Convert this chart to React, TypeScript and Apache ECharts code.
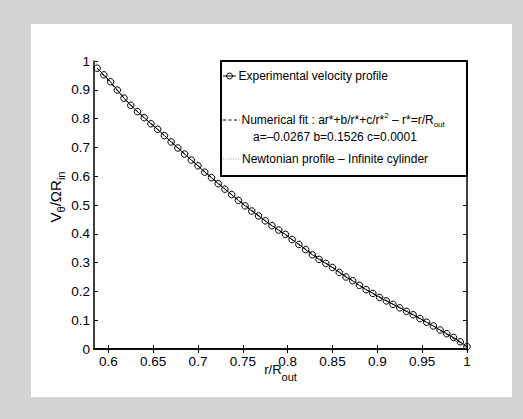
import React, { useEffect, useRef } from "react";
import * as echarts from "echarts";

// Experimental velocity profile (r/R_out, V_theta / Omega R_in)
const expR = [0.5875, 0.595, 0.6025, 0.61, 0.6175, 0.625, 0.6325, 0.64, 0.6475, 0.655,
  0.6625, 0.67, 0.6775, 0.685, 0.6925, 0.7, 0.7075, 0.715, 0.7225, 0.73,
  0.7375, 0.745, 0.7525, 0.76, 0.7675, 0.775, 0.7825, 0.79, 0.7975, 0.805,
  0.8125, 0.82, 0.8275, 0.835, 0.8425, 0.85, 0.8575, 0.865, 0.8725, 0.88,
  0.8875, 0.895, 0.9025, 0.91, 0.9175, 0.925, 0.9325, 0.94, 0.9475, 0.955,
  0.9625, 0.97, 0.9775, 0.985, 0.9925, 1.0];
const expV = [0.975, 0.952, 0.928, 0.899, 0.871, 0.846, 0.824, 0.803, 0.782, 0.763,
  0.741, 0.719, 0.698, 0.677, 0.656, 0.636, 0.614, 0.595, 0.574, 0.555,
  0.536, 0.516, 0.497, 0.479, 0.462, 0.445, 0.428, 0.413, 0.398, 0.380,
  0.363, 0.345, 0.327, 0.311, 0.297, 0.283, 0.266, 0.250, 0.237, 0.221,
  0.206, 0.193, 0.179, 0.167, 0.155, 0.143, 0.131, 0.119, 0.106, 0.093,
  0.080, 0.066, 0.053, 0.040, 0.025, 0.008];

// Numerical fit (dashed)
const fitR = [0.5875, 0.625, 0.6625, 0.7, 0.7375, 0.775, 0.8125, 0.85, 0.8875, 0.925, 0.9625, 1.0];
const fitV = [0.975, 0.846, 0.741, 0.636, 0.536, 0.445, 0.363, 0.283, 0.206, 0.143, 0.080, 0.008];

// Newtonian profile - infinite cylinder (dotted)
const newtR = [0.584, 0.6, 0.625, 0.65, 0.675, 0.7, 0.75, 0.8, 0.85, 0.9, 0.95, 1.0];
const newtV = [1.0, 0.948, 0.86, 0.79, 0.718, 0.649, 0.516, 0.405, 0.294, 0.193, 0.105, 0.0];

const xTicks = [0.6, 0.65, 0.7, 0.75, 0.8, 0.85, 0.9, 0.95, 1];
const xTickLabels = ["0.6", "0.65", "0.7", "0.75", "0.8", "0.85", "0.9", "0.95", "1"];

const legendLabels = [
  "Experimental velocity profile",
  "Numerical fit : ar*+b/r*+c/r*",
  "a=\u20130.0267 b=0.1526 c=0.0001",
  "Newtonian profile \u2013 Infinite cylinder",
];

const FONT = "'Liberation Sans', Arial, Helvetica, sans-serif";

function tw(t: string, size: number): number {
  const c = document.createElement("canvas").getContext("2d");
  if (!c) return t.length * size * 0.5;
  c.font = `${size}px ${FONT}`;
  return c.measureText(t).width;
}

function txt(text: string, x: number, y: number, size: number, extra: any = {}) {
  return {
    type: "text",
    x,
    y,
    z: 100,
    silent: true,
    style: {
      text,
      fontSize: size,
      fontFamily: FONT,
      fill: "#000",
      align: "left",
      verticalAlign: "middle",
      ...extra,
    },
  };
}

export default function App() {
  const ref = useRef<HTMLDivElement>(null);

  useEffect(() => {
    if (!ref.current) return;
    const chart = echarts.init(ref.current, undefined, { renderer: "svg" });

    const gridL = 94, gridT = 61, gridR = 467, gridB = 349;

    // Legend
    const lx = 221, ly = gridT, lw = gridR - lx, lh = 115;
    const r1 = 76, r2 = 120, r3 = 137, r4 = 159;
    const p1 = legendLabels[1];
    const w1 = tw(p1, 12);
    const p3 = " \u2013 r*=r/R";
    const w2 = tw("2", 8);
    const w3 = tw(p3, 12);
    const tx2 = 241.5;

    // x-axis name
    const xn1 = "r/R", xn2 = "out";
    const xnw = tw(xn1, 13) + tw(xn2, 11);
    const xnx = (gridL + gridR) / 2 - xnw / 2;

    // y-axis name pieces (rotated)
    const yParts = [
      { t: "V", s: 15, sub: false },
      { t: "\u03b8", s: 11, sub: true },
      { t: "/\u03a9R", s: 15, sub: false },
      { t: "in", s: 11, sub: true },
    ];
    const yTotal = yParts.reduce((a, p) => a + tw(p.t, p.s), 0);
    let acc = -yTotal / 2;
    const yChildren = yParts.map((p) => {
      const el = txt(p.t, acc, p.sub ? 6 : 0, p.s);
      acc += tw(p.t, p.s);
      return el;
    });

    const axisLine = { show: true, lineStyle: { color: "#000", width: 1.5 } };
    const tickStyle = { color: "#000", width: 1 };

    chart.setOption({
      animation: false,
      backgroundColor: "#d3d4d6",
      grid: { left: gridL, top: gridT, right: 523 - gridR, bottom: 419 - gridB, containLabel: false },
      xAxis: [
        {
          type: "value", min: 0.584, max: 1, position: "bottom",
          axisLine,
          axisTick: { show: true, inside: true, length: 4, customValues: xTicks, lineStyle: tickStyle },
          axisLabel: {
            customValues: xTicks, color: "#000", fontSize: 13.5, fontFamily: FONT, margin: 5,
            formatter: (v: number) => {
              const i = xTicks.findIndex((t) => Math.abs(t - v) < 1e-9);
              return i >= 0 ? xTickLabels[i] : String(v);
            },
          },
          splitLine: { show: false },
        },
        {
          type: "value", min: 0.584, max: 1, position: "top",
          axisLine,
          axisTick: { show: true, inside: true, length: 4, customValues: xTicks, lineStyle: tickStyle },
          axisLabel: { show: false },
          splitLine: { show: false },
        },
      ],
      yAxis: [
        {
          type: "value", min: 0, max: 1, interval: 0.1, position: "left",
          axisLine,
          axisTick: { show: true, inside: true, length: 4, lineStyle: tickStyle },
          axisLabel: { color: "#000", fontSize: 13.5, fontFamily: FONT, margin: 4 },
          splitLine: { show: false },
        },
        {
          type: "value", min: 0, max: 1, interval: 0.1, position: "right",
          axisLine,
          axisTick: { show: true, inside: true, length: 4, lineStyle: tickStyle },
          axisLabel: { show: false },
          splitLine: { show: false },
        },
      ],
      series: [
        {
          name: "Newtonian", type: "line", silent: true, z: 2,
          data: newtR.map((r, i) => [r, newtV[i]]),
          symbol: "none",
          lineStyle: { color: "#a8a8a8", width: 1, type: [1, 2] },
        },
        {
          name: "Fit", type: "line", silent: true, z: 3,
          data: fitR.map((r, i) => [r, fitV[i]]),
          symbol: "none",
          lineStyle: { color: "#000", width: 1, type: [4, 3] },
        },
        {
          name: "Experimental", type: "line", silent: true, z: 4,
          data: expR.map((r, i) => [r, expV[i]]),
          symbol: "circle", symbolSize: 6.5, showAllSymbol: true,
          itemStyle: { color: "rgba(0,0,0,0)", borderColor: "#000", borderWidth: 1 },
          lineStyle: { color: "#000", width: 1 },
        },
      ],
      graphic: [
        { type: "rect", z: -10, silent: true, shape: { x: 31, y: 24, width: 481, height: 373 }, style: { fill: "#fff" } },
        // legend box
        { type: "rect", z: 99, silent: true, shape: { x: lx, y: ly, width: lw, height: lh }, style: { fill: "#fff", stroke: "#000", lineWidth: 2 } },
        { type: "line", z: 100, silent: true, shape: { x1: 223, y1: r1, x2: 236, y2: r1 }, style: { stroke: "#000", lineWidth: 1 } },
        { type: "circle", z: 100, silent: true, shape: { cx: 229.5, cy: r1, r: 3 }, style: { fill: "none", stroke: "#000", lineWidth: 1 } },
        txt(legendLabels[0], 238.5, r1, 12),
        { type: "line", z: 100, silent: true, shape: { x1: 223, y1: r2, x2: 240, y2: r2 }, style: { stroke: "#000", lineWidth: 1, lineDash: [3, 2.5] } },
        txt(p1, tx2, r2, 12),
        txt("2", tx2 + w1, r2 - 4.5, 8),
        txt(p3, tx2 + w1 + w2, r2, 12),
        txt("out", tx2 + w1 + w2 + w3, r2 + 4, 8),
        txt(legendLabels[2], 253, r3, 12),
        { type: "line", z: 100, silent: true, shape: { x1: 223, y1: r4, x2: 240, y2: r4 }, style: { stroke: "#a8a8a8", lineWidth: 1, lineDash: [1, 1.5] } },
        txt(legendLabels[3], 242, r4, 12),
        // x axis name
        txt(xn1, xnx, 369, 13),
        txt(xn2, xnx + tw(xn1, 13), 377, 11),
        // y axis name
        {
          type: "group", x: 55, y: 197, rotation: Math.PI / 2, z: 100, silent: true,
          children: yChildren,
        },
      ],
    });

    return () => chart.dispose();
  }, []);

  return (
    <div
      ref={ref}
      style={{ position: "fixed", left: 0, top: 0, width: 523, height: 419 }}
    />
  );
}
